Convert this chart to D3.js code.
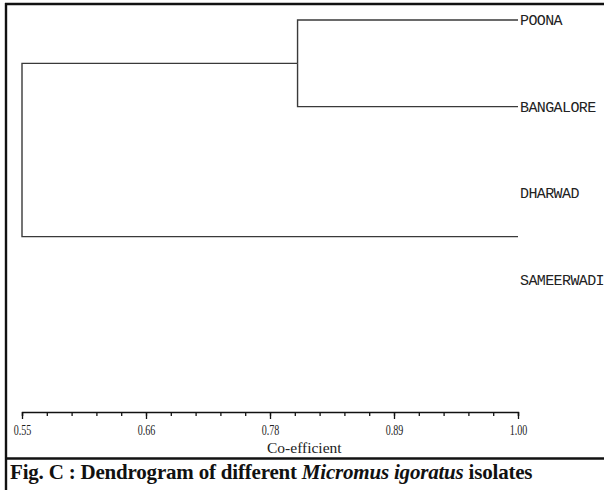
<!DOCTYPE html>
<html>
<head>
<meta charset="utf-8">
<script src="https://cdn.jsdelivr.net/npm/d3@7"></script>
<style>
body { margin: 0; background: #fff; }
</style>
</head>
<body>
<svg></svg>
<script>
// leaves top to bottom and the coefficient where each pair joins
const leaves = ['POONA', 'BANGALORE', 'DHARWAD', 'SAMEERWADI'];
const merges = [
	{ name: 'A', children: ['POONA', 'BANGALORE'], value: 0.80 },
	{ name: 'B', children: ['DHARWAD', 'SAMEERWADI'], value: 1.00 },
	{ name: 'root', children: ['A', 'B'], value: 0.55 }
];
const leafValue = 1.00;
const tickLabels = ['0.55', '0.66', '0.78', '0.89', '1.00'];
const majorTicks = [0.55, 0.6625, 0.775, 0.8875, 1.00];

const svg = d3.select('svg')
	.attr('width', 604)
	.attr('height', 490);

// frame
svg.append('line').attr('x1', 6).attr('x2', 6).attr('y1', 3).attr('y2', 490)
	.attr('stroke', '#111').attr('stroke-width', 2.4);
svg.append('line').attr('x1', 5).attr('x2', 604).attr('y1', 4).attr('y2', 4)
	.attr('stroke', '#111').attr('stroke-width', 2.4);
svg.append('line').attr('x1', 5).attr('x2', 604).attr('y1', 458.5).attr('y2', 458.5)
	.attr('stroke', '#111').attr('stroke-width', 2.4);

const xScale = d3.scaleLinear()
	.domain([0.55, 1.00])
	.range([22, 518]);

const yScale = d3.scalePoint()
	.domain(leaves)
	.range([20, 280]);

// positions of every node
const nodes = {};
leaves.forEach(d => { nodes[d] = { x: xScale(leafValue), y: yScale(d) }; });
merges.forEach(m => {
	nodes[m.name] = {
		x: xScale(m.value),
		y: d3.mean(m.children, c => nodes[c].y)
	};
});

const g = svg.append('g')
	.attr('fill', 'none')
	.attr('stroke', '#3a3a3a')
	.attr('stroke-width', 1.4);

merges.forEach(m => {
	const p = nodes[m.name];
	m.children.forEach(c => {
		const k = nodes[c];
		if (k.x === p.x) return; // zero-length branch
		g.append('path')
			.attr('d', `M${p.x},${p.y}V${k.y}H${k.x}`);
	});
});

svg.selectAll('.leaf')
	.data(leaves)
	.enter()
	.append('text')
		.attr('class', 'leaf')
		.attr('x', xScale(leafValue) + 2)
		.attr('y', d => yScale(d) + 5)
		.attr('font-family', 'Liberation Mono, monospace')
		.attr('font-size', 15)
		.attr('letter-spacing', -0.6)
		.attr('fill', '#222')
		.text(d => d);

// axis: minor and major ticks hanging under the line
const minorAxis = d3.axisBottom(xScale)
	.tickValues(d3.range(21).map(i => 0.55 + i * 0.0225))
	.tickSize(4)
	.tickFormat('');

const majorAxis = d3.axisBottom(xScale)
	.tickValues(majorTicks)
	.tickSize(7)
	.tickPadding(6)
	.tickFormat((d, i) => tickLabels[i]);

const minorG = svg.append('g')
	.attr('transform', 'translate(0, 412)')
	.call(minorAxis);

const majorG = svg.append('g')
	.attr('transform', 'translate(0, 412)')
	.call(majorAxis);
majorG.select('.domain').remove();

svg.selectAll('.domain, .tick line')
	.attr('stroke', '#111')
	.attr('stroke-width', 1.3);

majorG.selectAll('.tick text')
	.attr('font-family', 'Liberation Serif, serif')
	.attr('font-size', 14)
	.attr('transform', 'scale(0.72, 1)')
	.attr('fill', '#222');

svg.append('text')
	.attr('x', 267)
	.attr('y', 453)
	.attr('font-family', 'Liberation Serif, serif')
	.attr('font-size', 15.5)
	.attr('fill', '#222')
	.text('Co-efficient');

const caption = svg.append('text')
	.attr('x', 10)
	.attr('y', 479)
	.attr('font-family', 'Liberation Serif, serif')
	.attr('font-size', 21)
	.attr('font-weight', 'bold')
	.attr('letter-spacing', -0.2)
	.attr('fill', '#111');
caption.append('tspan').text('Fig. C : Dendrogram of different ');
caption.append('tspan').attr('font-style', 'italic').text('Micromus igoratus');
caption.append('tspan').text(' isolates');
</script>
</body>
</html>
